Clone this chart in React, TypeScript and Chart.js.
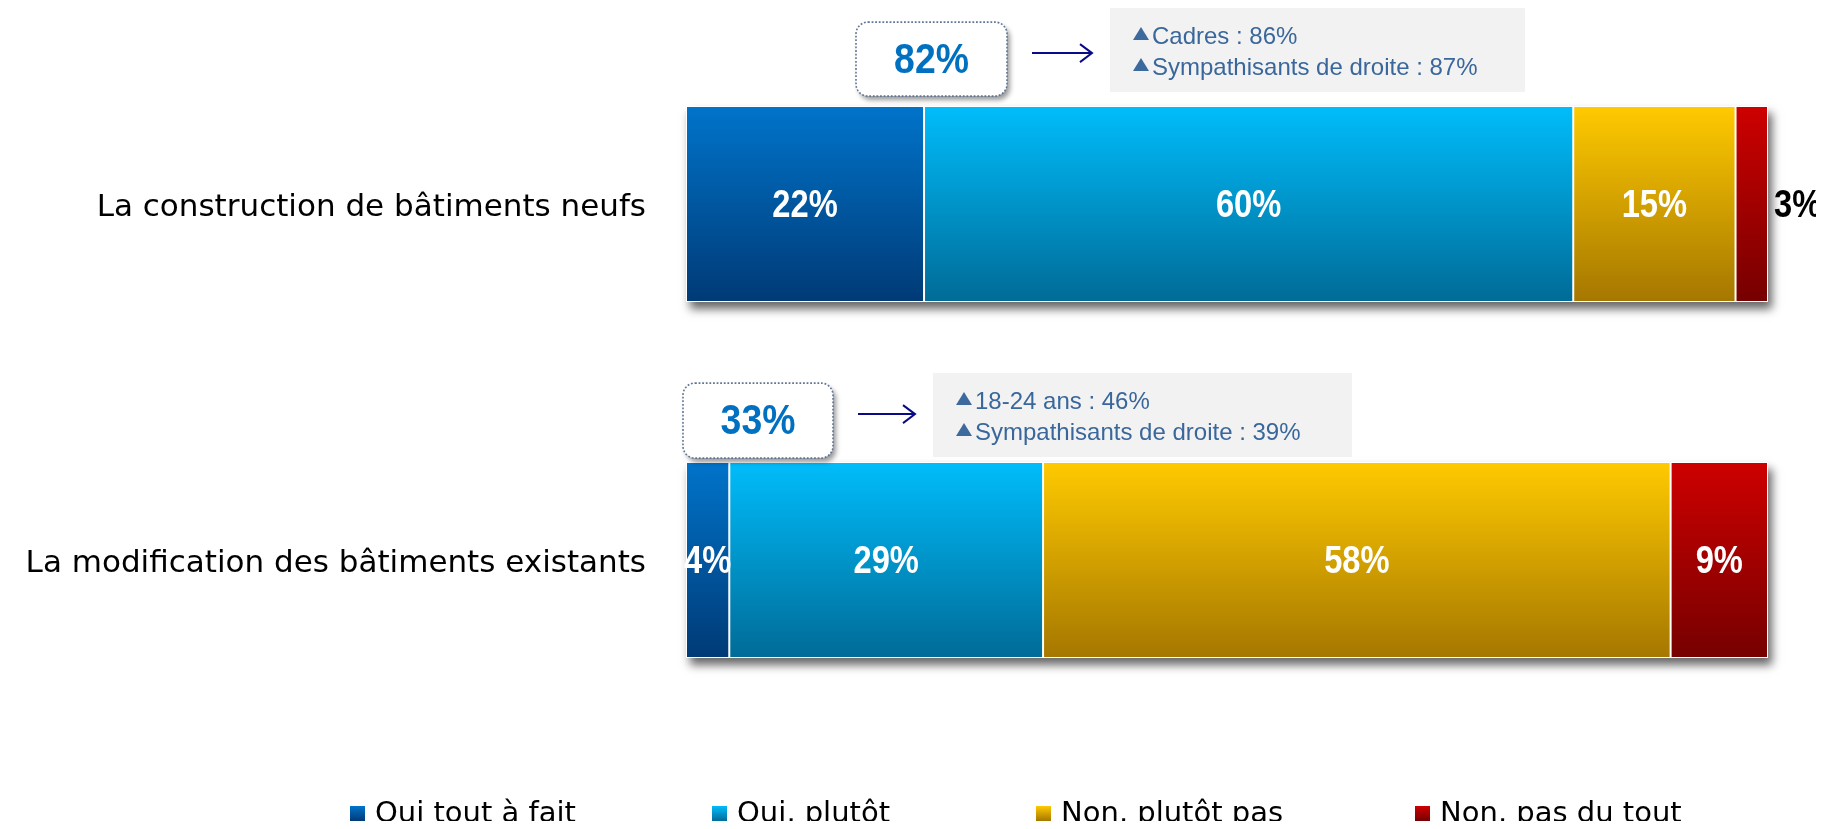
import { useEffect, useRef } from "react";
import { Chart, registerables } from "chart.js";

Chart.register(...registerables);

// ---------- data ----------
const categories = [
  "La construction de bâtiments neufs",
  "La modification des bâtiments existants",
];
const seriesNames = ["Oui tout à fait", "Oui, plutôt", "Non, plutôt pas", "Non, pas du tout"];
const ouiToutAFait = [22, 4];
const ouiPlutot = [60, 29];
const nonPlutotPas = [15, 58];
const nonPasDuTout = [3, 9];
const highlights = [
  ["Cadres : 86%", "Sympathisants de droite : 87%"],
  ["18-24 ans : 46%", "Sympathisants de droite : 39%"],
];

// ---------- styling ----------
const gradients: [string, string][] = [
  ["#0074CA", "#003A76"],
  ["#00BDFB", "#006B97"],
  ["#FFCA00", "#A57700"],
  ["#CE0000", "#760000"],
];
const BAR_FRACTION = 0.55;
const calloutLayout = [
  { boxDx: 170, boxDy: -84, boxW: 151, boxH: 74, grayDx: 424, grayDy: -98, grayW: 415 },
  { boxDx: -3, boxDy: -79, boxW: 150, boxH: 75, grayDx: 247, grayDy: -89, grayW: 419 },
];
const legendX = [342, 704, 1028, 1407];

function barGradient(stops: [string, string]) {
  return (ctx: any) => {
    const chart = ctx.chart;
    const y = chart.scales?.y;
    if (!chart.chartArea || !y || ctx.dataIndex === undefined) return stops[0];
    const c = y.getPixelForValue(ctx.dataIndex);
    const band = (chart.chartArea.bottom - chart.chartArea.top) / categories.length;
    const half = (band * BAR_FRACTION) / 2;
    const g = chart.ctx.createLinearGradient(0, c - half, 0, c + half);
    g.addColorStop(0, stops[0]);
    g.addColorStop(1, stops[1]);
    return g;
  };
}

const barShadow = {
  id: "barShadow",
  beforeDatasetsDraw(chart: any) {
    const { ctx } = chart;
    const xs = chart.scales.x;
    const first = chart.getDatasetMeta(0);
    first.data.forEach((el: any, i: number) => {
      const total = chart.data.datasets.reduce((s: number, ds: any) => s + ds.data[i], 0);
      const left = xs.getPixelForValue(0);
      const right = xs.getPixelForValue(total);
      const { y, height } = el.getProps(["y", "height"], true);
      ctx.save();
      ctx.shadowColor = "rgba(0,0,0,0.6)";
      ctx.shadowBlur = 9;
      ctx.shadowOffsetX = 4;
      ctx.shadowOffsetY = 7;
      ctx.fillStyle = "#ffffff";
      ctx.fillRect(left, y - height / 2, right - left, height);
      ctx.restore();
    });
  },
};

const valueLabels = {
  id: "valueLabels",
  afterDatasetsDraw(chart: any) {
    const { ctx } = chart;
    chart.data.datasets.forEach((ds: any, di: number) => {
      const meta = chart.getDatasetMeta(di);
      meta.data.forEach((el: any, i: number) => {
        const v = ds.data[i];
        const { x, y, base } = el.getProps(["x", "y", "base"], true);
        const outside = v < 4;
        ctx.save();
        ctx.font = 'bold 38px "Liberation Sans", Arial, sans-serif';
        ctx.textBaseline = "middle";
        if (outside) {
          ctx.fillStyle = "#000000";
          ctx.textAlign = "left";
          ctx.translate(Math.max(x, base) + 6, y);
        } else {
          ctx.fillStyle = "#ffffff";
          ctx.textAlign = "center";
          ctx.translate((x + base) / 2, y);
        }
        ctx.scale(0.86, 1);
        ctx.fillText(v + "%", 0, 3);
        ctx.restore();
      });
    });
  },
};

const callouts = {
  id: "callouts",
  afterDraw(chart: any) {
    const { ctx, chartArea } = chart;
    const first = chart.getDatasetMeta(0);
    first.data.forEach((el: any, i: number) => {
      const L = calloutLayout[i];
      const { y, height } = el.getProps(["y", "height"], true);
      const barTop = y - height / 2;
      const bx = chartArea.left + L.boxDx;
      const by = barTop + L.boxDy;
      const total = ouiToutAFait[i] + ouiPlutot[i];

      // box with shadow
      ctx.save();
      ctx.shadowColor = "rgba(0,0,0,0.4)";
      ctx.shadowBlur = 5;
      ctx.shadowOffsetX = 3;
      ctx.shadowOffsetY = 4;
      ctx.fillStyle = "#ffffff";
      ctx.beginPath();
      ctx.roundRect(bx, by, L.boxW, L.boxH, 12);
      ctx.fill();
      ctx.restore();
      ctx.save();
      ctx.strokeStyle = "#5F7595";
      ctx.lineWidth = 1.6;
      ctx.setLineDash([1.8, 1.8]);
      ctx.beginPath();
      ctx.roundRect(bx, by, L.boxW, L.boxH, 12);
      ctx.stroke();
      ctx.restore();

      ctx.save();
      ctx.font = 'bold 42px "Liberation Sans", Arial, sans-serif';
      ctx.fillStyle = "#0070C0";
      ctx.textAlign = "center";
      ctx.textBaseline = "middle";
      ctx.translate(bx + L.boxW / 2, by + L.boxH / 2);
      ctx.scale(0.89, 1);
      ctx.fillText(total + "%", 0, 2);
      ctx.restore();

      // gray panel
      const gx = chartArea.left + L.grayDx;
      const gy = barTop + L.grayDy;
      ctx.save();
      ctx.fillStyle = "#F2F2F2";
      ctx.fillRect(gx, gy, L.grayW, 84);
      ctx.restore();

      // arrow
      const ay = by + 31;
      const ax1 = bx + L.boxW + 25;
      const ax2 = gx - 18;
      ctx.save();
      ctx.strokeStyle = "#0A0A86";
      ctx.lineWidth = 2;
      ctx.beginPath();
      ctx.moveTo(ax1, ay);
      ctx.lineTo(ax2, ay);
      ctx.moveTo(ax2 - 12, ay - 9);
      ctx.lineTo(ax2, ay);
      ctx.lineTo(ax2 - 12, ay + 9);
      ctx.stroke();
      ctx.restore();

      // highlight lines
      highlights[i].forEach((t, k) => {
        const base = gy + 36 + k * 31;
        ctx.save();
        ctx.fillStyle = "#3D6A9E";
        ctx.beginPath();
        ctx.moveTo(gx + 23, base - 4);
        ctx.lineTo(gx + 39, base - 4);
        ctx.lineTo(gx + 31, base - 17);
        ctx.closePath();
        ctx.fill();
        ctx.font = '24px "Liberation Sans", Arial, sans-serif';
        ctx.fillStyle = "#3A679B";
        ctx.textAlign = "left";
        ctx.textBaseline = "alphabetic";
        ctx.fillText(t, gx + 42, base);
        ctx.restore();
      });
    });

    // legend
    const ly = 806;
    seriesNames.forEach((name, k) => {
      const x = legendX[k];
      ctx.save();
      const g = ctx.createLinearGradient(0, ly - 8, 0, ly + 7);
      g.addColorStop(0, gradients[k][0]);
      g.addColorStop(1, gradients[k][1]);
      ctx.fillStyle = g;
      ctx.fillRect(x, ly - 8, 15, 15);
      ctx.font = '29px "DejaVu Sans", sans-serif';
      ctx.fillStyle = "#000000";
      ctx.textAlign = "left";
      ctx.textBaseline = "middle";
      ctx.fillText(name, x + 25, ly);
      ctx.restore();
    });
  },
};

export default function App() {
  const ref = useRef<HTMLCanvasElement | null>(null);
  useEffect(() => {
    if (!ref.current) return;
    const series = [ouiToutAFait, ouiPlutot, nonPlutotPas, nonPasDuTout];
    const chart = new Chart(ref.current, {
      type: "bar",
      data: {
        labels: categories,
        datasets: series.map((d, k) => ({
          label: seriesNames[k],
          data: d,
          backgroundColor: barGradient(gradients[k]),
          borderColor: "#ffffff",
          borderWidth: 1,
          borderSkipped: false,
          barPercentage: BAR_FRACTION,
          categoryPercentage: 1,
        })),
      },
      options: {
        indexAxis: "y",
        responsive: false,
        animation: false,
        devicePixelRatio: 1,
        layout: { padding: { top: 18, bottom: 91, left: 0, right: 56 } },
        scales: {
          x: { stacked: true, min: 0, max: 100, display: false },
          y: {
            stacked: true,
            grid: { display: false, drawTicks: false },
            border: { display: false },
            ticks: {
              padding: 40,
              labelOffset: 4,
              color: "#000000",
              font: { family: '"DejaVu Sans", sans-serif', size: 31 },
            },
            afterFit: (scale: any) => {
              scale.width = 678;
              scale.paddingTop = 0;
              scale.paddingBottom = 0;
            },
          },
        },
        plugins: {
          legend: { display: false },
          tooltip: { enabled: false },
        },
      },
      plugins: [barShadow, valueLabels, callouts],
    });
    return () => chart.destroy();
  }, []);
  return (
    <canvas
      ref={ref}
      width={1816}
      height={821}
      style={{ display: "block", marginBottom: -8 }}
    />
  );
}
